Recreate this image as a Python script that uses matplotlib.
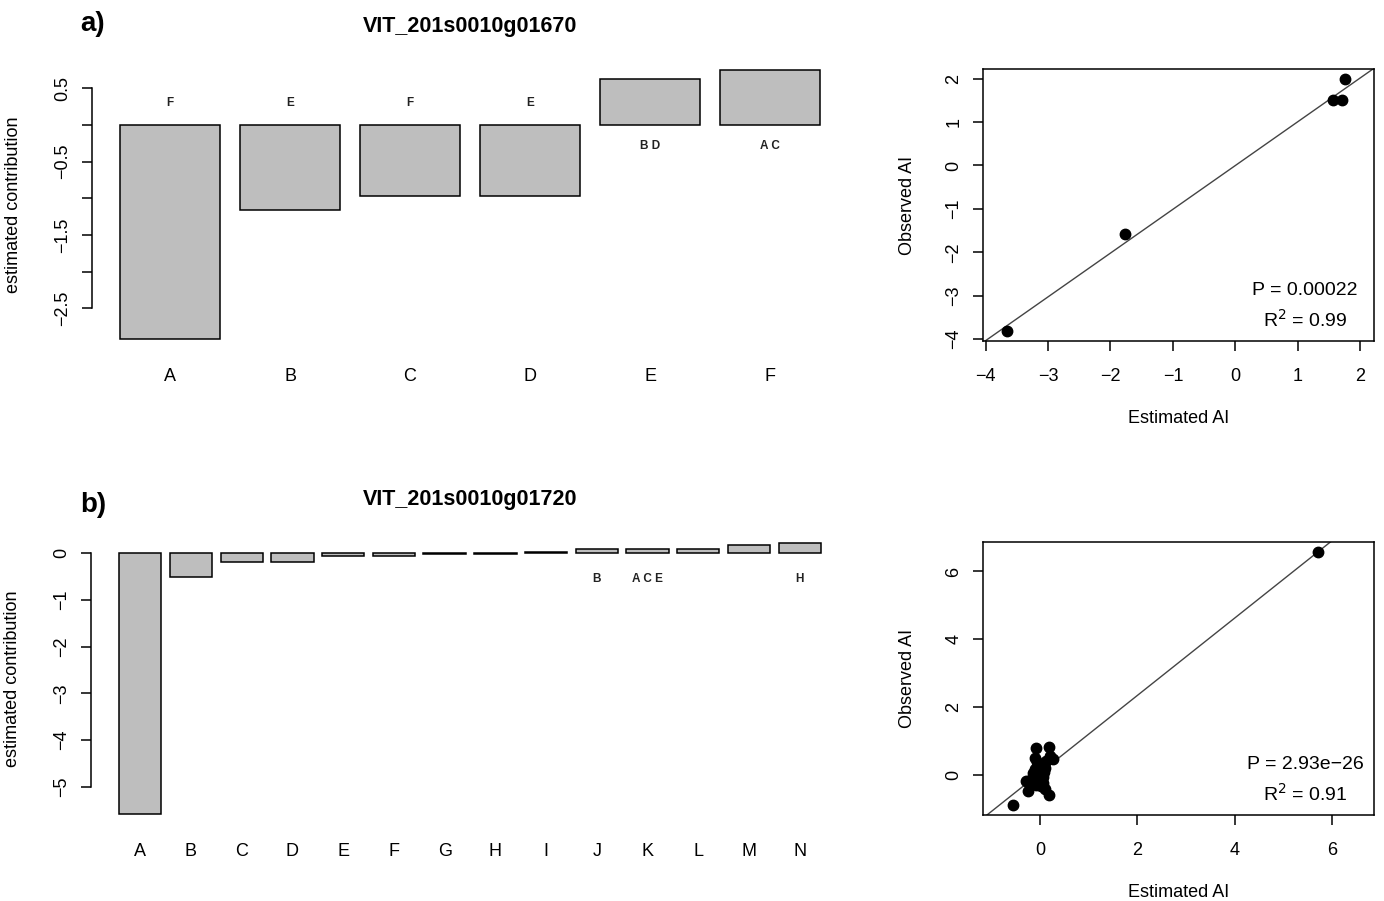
import numpy as np
import matplotlib
matplotlib.use("Agg")
import matplotlib.pyplot as plt

plt.rcParams['font.family'] = ['Liberation Sans', 'DejaVu Sans']

# panel a) contributions for VIT_201s0010g01670
genes = ["VIT_201s0010g01670", "VIT_201s0010g01720"]
cats_a = ["A", "B", "C", "D", "E", "F"]
contrib_a = [-2.92, -1.16, -0.97, -0.97, 0.62, 0.75]
groups_a = ["F", "E", "F", "E", "B D", "A C"]

est_a = [-3.65, -1.76, 1.56, 1.71, 1.76]
obs_a = [-3.81, -1.57, 1.50, 1.50, 1.99]
stat_a = ["P = 0.00022", "R$^2$ = 0.99"]

# panel b) contributions for VIT_201s0010g01720
cats_b = ["A", "B", "C", "D", "E", "F", "G", "H", "I", "J", "K", "L", "M", "N"]
contrib_b = [-5.59, -0.515, -0.18, -0.18, -0.065, -0.065, -0.005, -0.005,
             0.03, 0.085, 0.085, 0.085, 0.17, 0.225]
groups_b = ["", "", "", "", "", "", "", "", "", "B", "A C E", "", "", "H"]

est_b = [-0.57, 5.71, -0.08, 0.17, -0.11, 0.26, 0.20, 0.12, -0.06, 0.05,
         -0.10, -0.15, 0.08, -0.05, 0.02, -0.25, -0.30, -0.15, -0.06, 0.06,
         -0.26, -0.08, 0.02, 0.05, 0.10, 0.17, -0.12, 0.10]
obs_b = [-0.88, 6.57, 0.79, 0.84, 0.51, 0.46, 0.55, 0.40, 0.37, 0.30,
         0.17, 0.05, 0.08, 0.00, 0.12, -0.18, -0.17, -0.10, -0.10, -0.05,
         -0.47, -0.28, -0.33, -0.23, -0.40, -0.59, -0.22, 0.20]
stat_b = ["P = 2.93e\u221226", "R$^2$ = 0.91"]

FS = 13


def r_range(lo, hi):
    # R style 4% extension of the data range
    pad = 0.04 * (hi - lo)
    return lo - pad, hi + pad


def bar_panel(ax, cats, vals, groups, ticks, labels, spine_lo, spine_hi):
    n = len(vals)
    xpos = 0.7 + 1.2 * np.arange(n)
    ax.bar(xpos, vals, width=1.0, color="#BEBEBE", edgecolor="black", linewidth=1.1)
    ax.set_xlim(*r_range(0.2, 1.2 * n))
    ax.set_ylim(*r_range(min(min(vals), 0), max(max(vals), 0)))

    off = 0.1 * max(abs(v) for v in vals)
    for x, v, g in zip(xpos, vals, groups):
        if g:
            y = -off if v > 0 else off
            ax.text(x, y, g, ha="center", va="center", fontsize=8.5, fontweight="bold", color="#222222")

    for s in ["top", "right", "bottom"]:
        ax.spines[s].set_visible(False)
    ax.spines["left"].set_bounds(spine_lo, spine_hi)
    ax.spines["left"].set_linewidth(1.1)
    ax.set_xticks(xpos)
    ax.set_xticklabels(cats, fontsize=FS)
    ax.tick_params(axis="x", length=0, pad=13)
    ax.set_yticks(ticks)
    ax.set_yticklabels(labels, rotation=90, va="center", fontsize=FS)
    ax.tick_params(axis="y", length=7, width=1.1, pad=8)
    ax.set_ylabel("estimated contribution", fontsize=FS)
    ax.yaxis.set_label_coords(-0.092, 0.5)


def scatter_panel(ax, est, obs, stats, ticks):
    lo, hi = r_range(min(min(est), min(obs)), max(max(est), max(obs)))
    ax.set_xlim(lo, hi)
    ax.set_ylim(lo, hi)
    b, a = np.polyfit(est, obs, 1)
    xx = np.array([lo - 1, hi + 1])
    ax.plot(xx, a + b * xx, color="#444444", linewidth=1.0, zorder=1)
    ax.plot(est, obs, "o", color="black", markersize=7.5, zorder=2)
    ax.set_xticks(ticks)
    ax.set_yticks(ticks)
    ax.set_xticklabels([str(t).replace("-", "\u2212") for t in ticks], fontsize=FS)
    ax.set_yticklabels([str(t).replace("-", "\u2212") for t in ticks], fontsize=FS,
                       rotation=90, va="center")
    ax.tick_params(axis="both", length=7, width=1.1)
    ax.tick_params(axis="x", pad=12.5)
    ax.tick_params(axis="y", pad=8)
    for s in ax.spines.values():
        s.set_linewidth(1.1)
    ax.set_xlabel("Estimated AI", fontsize=FS)
    ax.set_ylabel("Observed AI", fontsize=FS)
    ax.xaxis.set_label_coords(0.5, -0.252)
    ax.yaxis.set_label_coords(-0.171, 0.5)
    ax.text(0.824, 0.184, stats[0], transform=ax.transAxes, ha="center", va="center", fontsize=14)
    ax.text(0.824, 0.077, stats[1], transform=ax.transAxes, ha="center", va="center", fontsize=14)


fig = plt.figure(figsize=(13.84, 9.01), dpi=100)
W, H = 1384.0, 901.0

def px_axes(x0, y0, x1, y1):
    return fig.add_axes([x0 / W, 1 - y1 / H, (x1 - x0) / W, (y1 - y0) / H])

ax1 = px_axes(92, 59, 848, 350)
ax2 = px_axes(983, 69, 1374, 341)
ax3 = px_axes(91, 532, 849, 825)
ax4 = px_axes(983, 542, 1374, 815)

bar_panel(ax1, cats_a, contrib_a, groups_a,
          [0.5, 0.0, -0.5, -1.0, -1.5, -2.0, -2.5],
          ["0.5", "", "\u22120.5", "", "\u22121.5", "", "\u22122.5"], -2.5, 0.5)
bar_panel(ax3, cats_b, contrib_b, groups_b,
          [0, -1, -2, -3, -4, -5],
          ["0", "\u22121", "\u22122", "\u22123", "\u22124", "\u22125"], -5, 0)

scatter_panel(ax2, est_a, obs_a, stat_a, [-4, -3, -2, -1, 0, 1, 2])
scatter_panel(ax4, est_b, obs_b, stat_b, [0, 2, 4, 6])

ax1.text(0.5, (350 - 26) / 291.0, genes[0], transform=ax1.transAxes, ha="center", va="center",
         fontsize=15.5, fontweight="bold")
ax3.text(0.5, (825 - 500) / 293.0, genes[1], transform=ax3.transAxes, ha="center", va="center",
         fontsize=15.5, fontweight="bold")

fig.text(80 / W, 1 - 24 / H, "a)", ha="left", va="center", fontsize=20, fontweight="bold")
fig.text(80 / W, 1 - 505 / H, "b)", ha="left", va="center", fontsize=20, fontweight="bold")

fig.savefig("out.png", dpi=100)
